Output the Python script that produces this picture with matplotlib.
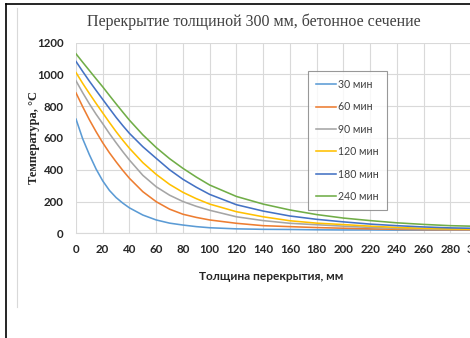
import matplotlib
matplotlib.use("Agg")
import matplotlib.pyplot as plt
from matplotlib.lines import Line2D

# thickness, mm
depth = [0, 5, 10, 15, 20, 25, 30, 35, 40, 50, 60, 70, 80, 90, 100, 120, 140,
         160, 180, 200, 220, 240, 260, 280, 300]

# temperature, C
t30 = [719, 595, 495, 405, 330, 270, 225, 190, 160, 115, 84, 64, 52, 42, 35,
       28, 25, 24, 22, 21, 21, 20, 20, 20, 20]
t60 = [884, 797, 715, 640, 570, 507, 450, 396, 346, 262, 199, 152, 120, 100, 84,
       63, 48, 42, 36, 32, 28, 25, 23, 22, 21]
t90 = [960, 885, 815, 750, 690, 628, 570, 514, 461, 365, 293, 240, 200, 170, 145,
       104, 80, 63, 54, 45, 37, 31, 27, 24, 23]
t120 = [1012, 944, 880, 818, 758, 698, 640, 586, 535, 445, 371, 308, 258, 218, 184,
        136, 104, 79, 64, 55, 45, 37, 31, 27, 25]
t180 = [1082, 1019, 958, 900, 843, 786, 730, 678, 629, 545, 472, 400, 340, 290, 245,
        180, 140, 109, 88, 72, 58, 48, 40, 34, 31]
t240 = [1130, 1077, 1025, 973, 922, 868, 815, 763, 712, 620, 540, 470, 409, 354, 304,
        232, 184, 147, 118, 96, 80, 66, 56, 48, 44]

labels = ["30 мин", "60 мин", "90 мин", "120 мин", "180 мин", "240 мин"]
series = [t30, t60, t90, t120, t180, t240]
colors = ["#5B9BD5", "#ED7D31", "#A5A5A5", "#FFC000", "#4472C4", "#70AD47"]

fig = plt.figure(figsize=(4.7, 3.38), dpi=100)
fig.patch.set_facecolor("white")

# page frame and chart-area edge
fig.add_artist(Line2D([6/470, 1], [1 - 4/338, 1 - 4/338], color="black", lw=1.2))
fig.add_artist(Line2D([6/470, 6/470], [0, 1 - 4/338], color="black", lw=1.2))
fig.add_artist(Line2D([17/470, 17/470], [1 - 307/338, 1 - 8/338], color="#d9d9d9", lw=0.8))

ax = fig.add_axes([76/470, 1 - 233.3/338, 401/470, 190.6/338])

for vals, lab, col in zip(series, labels, colors):
    ax.plot(depth, vals, color=col, lw=1.15, label=lab)

ax.set_xlim(0, 300)
ax.set_ylim(0, 1200)
ax.set_xticks(range(0, 301, 20))
ax.set_yticks(range(0, 1201, 200))
ax.grid(True, color="#d9d9d9", lw=0.8)
ax.set_axisbelow(True)
for s in ["top", "right", "left"]:
    ax.spines[s].set_visible(False)
ax.spines["bottom"].set_color("#d9d9d9")
ax.tick_params(axis="x", length=0, pad=8)
ax.tick_params(axis="y", length=0, pad=9)
for lb in ax.get_xticklabels() + ax.get_yticklabels():
    lb.set_fontfamily("Lato")
    lb.set_fontweight("bold")
    lb.set_fontsize(8.3)
    lb.set_color("#262626")

fig.text(254/470, 1 - 22/338, "Перекрытие толщиной 300 мм, бетонное сечение",
         family="Liberation Serif", fontsize=11.5, color="#404040",
         ha="center", va="center")
fig.text(34/470, 1 - 138/338, "Температура, °С", family="Liberation Serif",
         fontweight="bold", fontsize=9, rotation=90, ha="center", va="center",
         color="#262626")
fig.text(271/470, 1 - 277/338, "Толщина перекрытия, мм", family="Lato",
         fontweight="bold", fontsize=8.6, ha="center", va="center", color="#262626")

leg = ax.legend(loc="upper left", bbox_to_anchor=(308/470, 1 - 71/338),
                bbox_transform=fig.transFigure, prop={"family": "Lato", "size": 7.6},
                frameon=True, fancybox=False, handlelength=1.9, handletextpad=0.2,
                labelspacing=1.08, borderpad=0.75, borderaxespad=0)
leg.get_frame().set_edgecolor("#7f7f7f")
leg.get_frame().set_linewidth(0.8)
for t in leg.get_texts():
    t.set_color("#404040")

fig.savefig("out.png", dpi=100)
